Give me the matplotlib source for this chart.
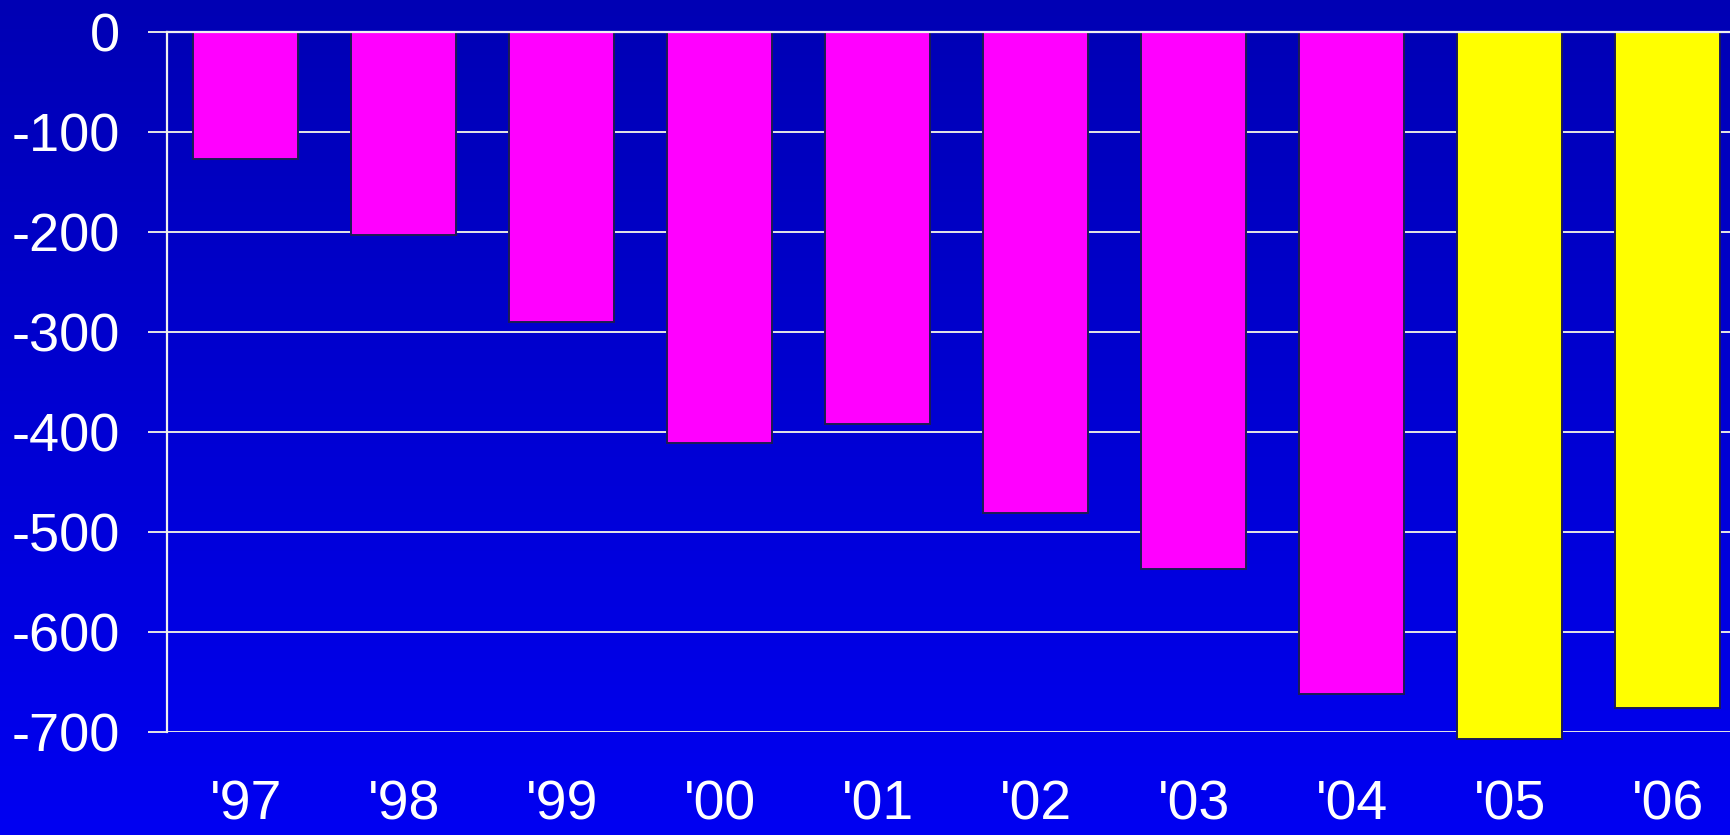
import matplotlib
matplotlib.use("Agg")
import matplotlib.pyplot as plt
import numpy as np
from matplotlib.colors import LinearSegmentedColormap

years = ["'97", "'98", "'99", "'00", "'01", "'02", "'03", "'04", "'05", "'06"]
values = [-127, -203, -290, -411, -392, -481, -537, -662, -707, -676]
colors = ["#FF00FF"] * 8 + ["#FFFF00"] * 2
yticks = [0, -100, -200, -300, -400, -500, -600, -700]

plt.rcParams["font.family"] = ["Liberation Sans", "DejaVu Sans"]

fig = plt.figure(figsize=(17.3, 8.35), dpi=100)

# vertical blue gradient behind everything
bg = fig.add_axes([0, 0, 1, 1], zorder=0)
grad = np.linspace(0, 1, 256).reshape(-1, 1)
cmap = LinearSegmentedColormap.from_list("bg", ["#0000B4", "#0000F2"])
bg.imshow(grad, aspect="auto", cmap=cmap, extent=[0, 1, 0, 1], origin="upper")
bg.axis("off")

ax = fig.add_axes([0.0965, 0.1234, 0.9133, 0.8383], zorder=1)
ax.patch.set_alpha(0)

x = np.arange(len(years))
ax.bar(x, values, width=0.665, color=colors, edgecolor="#1b1b55",
       linewidth=1.4, zorder=3, clip_on=False)

ax.set_xlim(-0.5, len(years) - 0.5)
ax.set_ylim(-700, 0)
ax.set_yticks(yticks)
ax.set_yticklabels([str(v) for v in yticks])
ax.set_xticks(x)
ax.set_xticklabels(years)

ax.yaxis.grid(True, color="#E6E6E6", linewidth=1.4, zorder=1)
ax.set_axisbelow(True)

for side in ["right", "bottom"]:
    ax.spines[side].set_visible(False)
for side in ["left", "top"]:
    ax.spines[side].set_color("#F0F0F0")
    ax.spines[side].set_linewidth(1.6)
ax.spines["top"].set_zorder(5)

ax.tick_params(axis="y", direction="out", length=14, width=1.4,
               color="#E6E6E6", labelcolor="white", labelsize=39, pad=20)
ax.tick_params(axis="x", length=0, labelcolor="white", labelsize=40, pad=34)

fig.savefig("out.png", dpi=100)
